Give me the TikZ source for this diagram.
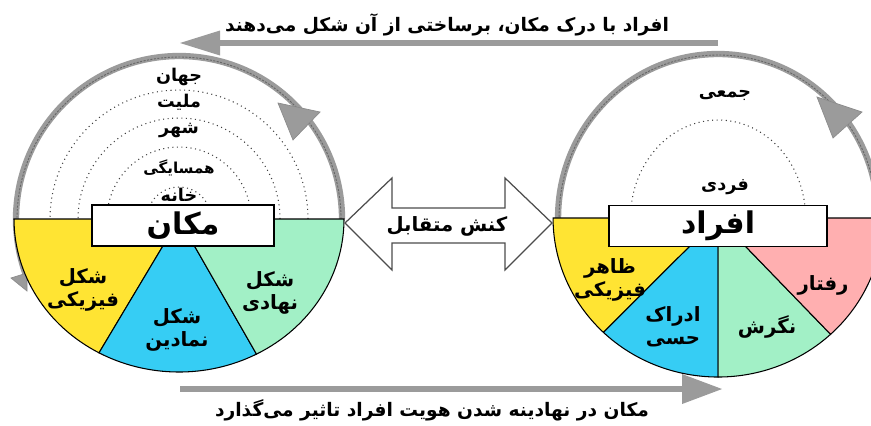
\documentclass[tikz,border=0pt]{standalone}
\usepackage{fontspec}
\newfontfamily\fa[Script=Arabic]{DejaVu Sans}
\TeXXeTstate=1
\newcommand{\rl}[1]{\beginR#1\endR}
\definecolor{ringgray}{HTML}{9B9B9B}
\definecolor{sunyellow}{HTML}{FFE433}
\definecolor{skyblue}{HTML}{36CDF4}
\definecolor{mintgreen}{HTML}{A2F0C6}
\definecolor{rosepink}{HTML}{FFAFB0}
\tikzset{
  ring/.style={line width=1.8pt, draw=ringgray},
  ringcore/.style={line width=0.25pt, draw=black!60, dash pattern=on 0.6pt off 0.4pt},
  layer/.style={line width=0.3pt, draw=black!75, densely dotted},
  sector/.style={draw=black, line width=0.3pt},
  shaft/.style={line width=1.5pt, draw=ringgray},
  namebox/.style={draw=black, fill=white, line width=0.5pt, minimum height=4.1mm, font=\fa\bfseries\fontsize{8.5}{9}\selectfont},
  layerlabel/.style={font=\fa\bfseries\fontsize{5}{6}\selectfont},
  sectorlabel/.style={font=\fa\bfseries\fontsize{5.6}{6.4}\selectfont, align=center},
  caption/.style={font=\fa\bfseries\fontsize{5.3}{6}\selectfont}
}
\begin{document}
\begin{tikzpicture}[scale=0.1]
\tikzstyle{every node}+=[inner sep=0pt]
\useasboundingbox (0,0) rectangle (87.1,-42.5);
% centres of the two discs
\coordinate (place) at (17.9,-21.9);
\coordinate (people) at (71.8,-21.8);
% grey rings
\draw [ring] (place) ++(0:16.3) arc [start angle=0, end angle=202, radius=16.3];
\draw [ringcore] (place) ++(0:16.2) arc [start angle=0, end angle=202, radius=16.2];
\draw [ring] (people) ++(0:16.0) arc [start angle=0, end angle=180, x radius=16.0, y radius=16.4];
\draw [ringcore] (people) ++(0:15.9) arc [start angle=0, end angle=180, x radius=15.9, y radius=16.3];
\filldraw [fill=ringgray, draw=black!45, line width=0.2pt] (27.8,-10.3) -- (32.0,-11.2) -- (29.3,-14.0) -- cycle;
\filldraw [fill=ringgray, draw=black!45, line width=0.2pt] (81.7,-9.7) -- (86.2,-11.2) -- (83.3,-13.8) -- cycle;
\filldraw [fill=ringgray, draw=black!45, line width=0.2pt] (1.1,-27.8) -- (2.7,-27.3) -- (2.7,-29.1) -- cycle;
% layers of place
\draw [layer] (place) ++(3.2,0) arc [start angle=0, end angle=180, radius=3.2];
\draw [layer] (place) ++(7.2,0) arc [start angle=0, end angle=180, radius=7.2];
\draw [layer] (place) ++(10.1,0) arc [start angle=0, end angle=180, radius=10.1];
\draw [layer] (place) ++(12.9,0) arc [start angle=0, end angle=180, radius=12.9];
\node (world) at (17.9,-7.7) [layerlabel] {\rl{جهان}};
\node (nation) at (17.9,-10.2) [layerlabel] {\rl{ملیت}};
\node (city) at (17.9,-13.0) [layerlabel] {\rl{شهر}};
\node (hood) at (17.9,-16.8) [layerlabel, font=\fa\bfseries\fontsize{4.3}{5}\selectfont] {\rl{همسایگی}};
\node (home) at (17.9,-19.5) [layerlabel] {\rl{خانه}};
% layers of people
\draw [layer] (people) ++(8.75,0) arc [start angle=0, end angle=180, x radius=8.75, y radius=9.8];
\node (group) at (72.5,-9.5) [layerlabel] {\rl{جمعی}};
\node (single) at (72.5,-18.7) [layerlabel] {\rl{فردی}};
% sectors of place
\filldraw [sector, fill=sunyellow] (place) -- ++(180:16.5 and 15.3) arc [start angle=180, end angle=241, x radius=16.5, y radius=15.3] -- cycle;
\filldraw [sector, fill=skyblue] (place) -- ++(241:16.5 and 15.3) arc [start angle=241, end angle=298, x radius=16.5, y radius=15.3] -- cycle;
\filldraw [sector, fill=mintgreen] (place) -- ++(298:16.5 and 15.3) arc [start angle=298, end angle=360, x radius=16.5, y radius=15.3] -- cycle;
% sectors of people
\filldraw [sector, fill=sunyellow] (people) -- ++(180:16.5 and 15.9) arc [start angle=180, end angle=226, x radius=16.5, y radius=15.9] -- cycle;
\filldraw [sector, fill=skyblue] (people) -- ++(226:16.5 and 15.9) arc [start angle=226, end angle=270, x radius=16.5, y radius=15.9] -- cycle;
\filldraw [sector, fill=mintgreen] (people) -- ++(270:16.5 and 15.9) arc [start angle=270, end angle=313, x radius=16.5, y radius=15.9] -- cycle;
\filldraw [sector, fill=rosepink] (people) -- ++(313:16.5 and 15.9) arc [start angle=313, end angle=360, x radius=16.5, y radius=15.9] -- cycle;
% title boxes
\node (placebox) at (18.3,-22.55) [namebox, minimum width=18.2mm] {\rl{مکان}};
\node (peoplebox) at (71.8,-22.6) [namebox, minimum width=21.8mm] {\rl{افراد}};
\node (physical) at (8.3,-29.0) [sectorlabel] {\rl{شکل}\\\rl{فیزیکی}};
\node (symbolic) at (17.7,-33.0) [sectorlabel] {\rl{شکل}\\\rl{نمادین}};
\node (institution) at (27.0,-29.3) [sectorlabel] {\rl{شکل}\\\rl{نهادی}};
\node (look) at (61.0,-28.0) [sectorlabel] {\rl{ظاهر}\\\rl{فیزیکی}};
\node (sense) at (67.3,-32.7) [sectorlabel] {\rl{ادراک}\\\rl{حسی}};
\node (attitude) at (76.7,-32.7) [sectorlabel] {\rl{نگرش}};
\node (behaviour) at (82.3,-28.5) [sectorlabel] {\rl{رفتار}};
% interaction
\draw [fill=white, draw=black!70, line width=0.35pt] (34.5,-22.3) -- (39.2,-17.8) -- (39.2,-20.8) -- (50.5,-20.8) -- (50.5,-17.8) -- (55.2,-22.3) -- (50.5,-27.0) -- (50.5,-24.3) -- (39.2,-24.3) -- (39.2,-27.0) -- cycle;
\node (act) at (44.7,-22.6) [caption, font=\fa\bfseries\fontsize{5.6}{6}\selectfont] {\rl{کنش متقابل}};
% top arrow
\coordinate (topA) at (71.8,-4.3);
\coordinate (topB) at (22.0,-4.3);
\draw [shaft] (topA) -- (topB);
\fill [ringgray] (topB) -- ++(0,1.25) -- ++(-4,-1.25) -- ++(4,-1.25) -- cycle;
\node (toptext) at (44.7,-2.5) [caption] {\rl{افراد با درک مکان، برساختی از آن شکل می‌دهند}};
% bottom arrow
\coordinate (botA) at (18.0,-38.9);
\coordinate (botB) at (68.2,-38.9);
\draw [shaft] (botA) -- (botB);
\fill [ringgray] (botB) -- ++(0,1.5) -- ++(4,-1.5) -- ++(-4,-1.5) -- cycle;
\node (bottext) at (43.2,-41.0) [caption] {\rl{مکان در نهادینه شدن هویت افراد تاثیر می‌گذارد}};
\end{tikzpicture}
\end{document}
